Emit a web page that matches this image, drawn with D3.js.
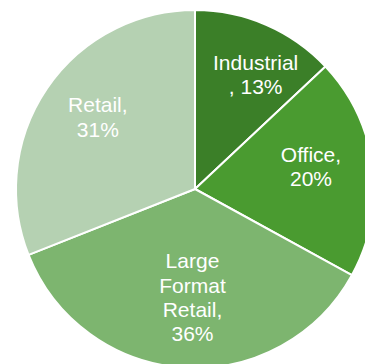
<!DOCTYPE html>
<html>
<head>
<meta charset="utf-8">
<script src="https://cdn.jsdelivr.net/npm/d3@7"></script>
<style>
	html, body { margin: 0; padding: 0; background: #fff; overflow: hidden; }
	#chart text { font-family: "Liberation Sans", Arial, sans-serif; }
</style>
</head>
<body>
<div id="chart"></div>
<script>
// data
var categories = ["Industrial", "Office", "Large Format Retail", "Retail"];
var shares     = [13, 20, 36, 31];
// how the labels wrap in the original
var labelLines = [
	["Industrial", ", 13%"],
	["Office,", "20%"],
	["Large", "Format", "Retail,", "36%"],
	["Retail,", "31%"]
];
var colors = ["#3b7f28", "#4a9b30", "#7db56f", "#b5d1b2"];

var width = 365, height = 364;
var cx = 195, cy = 189, radius = 179;
// small nudges to get the labels where the original put them
var labelNudge = [[13, -4], [-3, -7], [5, -11], [2, -4]];

var svg = d3.select("#chart").append("svg")
	.attr("width", width)
	.attr("height", height);

var g = svg.append("g")
	.attr("transform", "translate(" + cx + "," + cy + ")");

var data = categories.map(function(c, i){
	return {name: c, value: shares[i], lines: labelLines[i], color: colors[i], idx: i};
});

var pie = d3.pie()
	.sort(null)
	.value(function(d){ return d.value; });

var arc = d3.arc().innerRadius(0).outerRadius(radius);
var labelArc = d3.arc().innerRadius(radius * 0.67).outerRadius(radius * 0.67);

var slices = g.selectAll("path.slice")
	.data(pie(data))
	.enter().append("path")
	.attr("class", "slice")
	.attr("d", arc)
	.style("fill", function(d){ return d.data.color; })
	.style("stroke", "#fff")
	.style("stroke-width", 2)
	.style("stroke-linejoin", "round");

var fontSize = 21, lineH = 24.3;

var labels = g.selectAll("text.lbl")
	.data(pie(data))
	.enter().append("text")
	.attr("class", "lbl")
	.attr("text-anchor", "middle")
	.style("font-size", fontSize + "px")
	.style("fill", "#fff")
	.attr("transform", function(d){
		var c = labelArc.centroid(d);
		var n = labelNudge[d.data.idx];
		return "translate(" + (c[0] + n[0]) + "," + (c[1] + n[1]) + ")";
	});

labels.each(function(d){
	var t = d3.select(this);
	var lines = d.data.lines;
	var y0 = -(lines.length - 1) * lineH / 2 + 7;
	lines.forEach(function(l, i){
		t.append("tspan")
			.attr("x", 0)
			.attr("y", y0 + i * lineH)
			.text(l);
	});
});
</script>
</body>
</html>
